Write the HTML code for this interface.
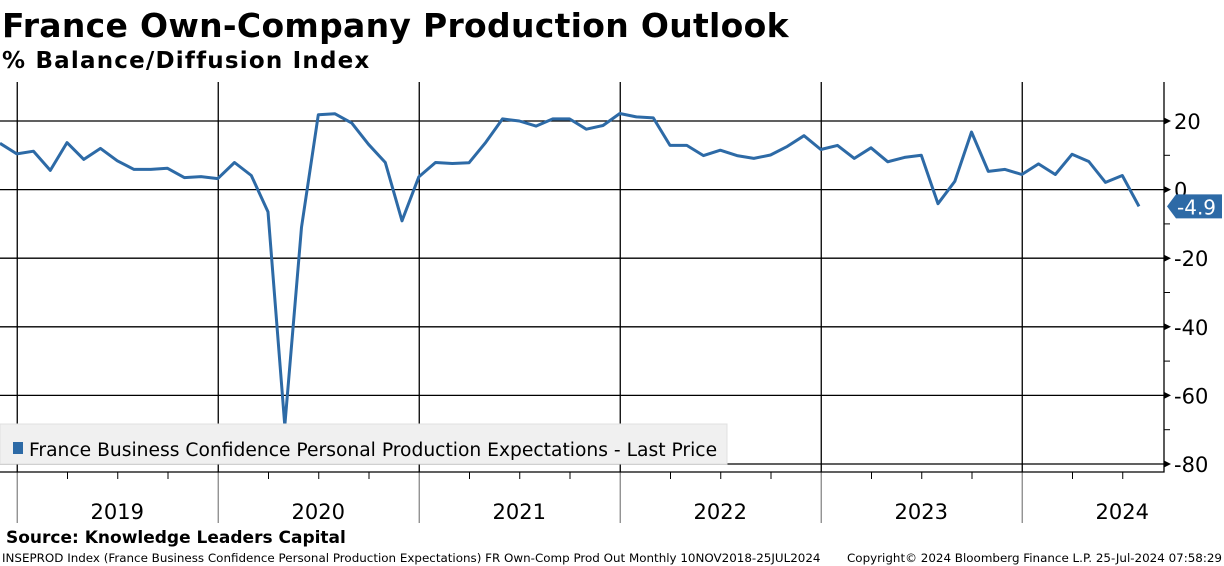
<!DOCTYPE html>
<html><head><meta charset="utf-8">
<style>
body{margin:0;background:#fff;width:1224px;height:566px;overflow:hidden;font-family:"Liberation Sans","DejaVu Sans",sans-serif;}
svg{display:block}
</style></head>
<body>
<svg id="chart" width="1224" height="566" xmlns="http://www.w3.org/2000/svg">
<text x="2" y="37" font-family="'DejaVu Sans',sans-serif" font-weight="bold" font-size="33" letter-spacing="0.3" fill="#000">France Own-Company Production Outlook</text>
<text x="2" y="68" font-family="'DejaVu Sans',sans-serif" font-weight="bold" font-size="23" letter-spacing="1.2" fill="#000">% Balance/Diffusion Index</text>
<g id="grid"></g>
<g id="axes"></g>
<g id="series"></g>
<g id="legend"></g>
<text x="6" y="543" font-family="'DejaVu Sans',sans-serif" font-weight="bold" font-size="17" fill="#000">Source: Knowledge Leaders Capital</text>
<text x="2" y="562" font-family="'DejaVu Sans',sans-serif" font-size="11.9" fill="#000">INSEPROD Index (France Business Confidence Personal Production Expectations) FR Own-Comp Prod Out  Monthly 10NOV2018-25JUL2024</text>
<text x="1222" y="562" text-anchor="end" font-family="'DejaVu Sans',sans-serif" font-size="11.9" fill="#000">Copyright© 2024 Bloomberg Finance L.P.     25-Jul-2024 07:58:29</text>
</svg>
<script>
const yearLabels=["2019","2020","2021","2022","2023","2024"];
const yTicks=[20,0,-20,-40,-60,-80];
const values=[13.5,10.4,11.2,5.6,13.7,8.8,12,8.4,5.9,5.9,6.2,3.5,3.8,3.2,7.9,4.1,-6.5,-68.8,-11,21.8,22.1,19.4,13.2,7.9,-9.1,3.7,7.9,7.6,7.8,13.8,20.6,20,18.5,20.6,20.6,17.6,18.7,22.2,21.2,20.9,12.9,12.9,9.9,11.5,9.9,9.1,10.1,12.6,15.7,11.7,12.9,9.1,12.2,8.1,9.4,10,-4.1,2.4,16.8,5.3,5.9,4.4,7.5,4.4,10.3,8.2,2.1,4.1,-4.9];
const lastValue="-4.9";
const NS="http://www.w3.org/2000/svg";
const xL=0,xR=1164,yTop=82,yBot=472;
function y(v){return 189.6-v*3.43;}
function x(i){return i*16.75;} // monthly index from Nov 2018
function mk(t,a,p){const e=document.createElementNS(NS,t);for(const k in a)e.setAttribute(k,a[k]);p.appendChild(e);return e;}
const grid=document.getElementById('grid'),axes=document.getElementById('axes'),ser=document.getElementById('series'),leg=document.getElementById('legend');
yTicks.forEach(v=>{
 const l=mk('line',{x1:xL,x2:xR,y1:y(v),y2:y(v),stroke:'#000','stroke-width':1.3},grid);
 
 
 const tk=mk('path',{d:`M${xR} ${y(v)-3.5} L${xR+7} ${y(v)} L${xR} ${y(v)+3.5}Z`,fill:'#000'},axes);
 
 
 const t=mk('text',{x:xR+10,y:y(v)+8,'font-size':21,'font-family':"'DejaVu Sans',sans-serif",fill:'#000'},axes);
 t.textContent=v;
 
 
});
for(let v=10;v>=-80;v-=20){
 const m=mk('line',{x1:xR,x2:xR+6,y1:y(v),y2:y(v),stroke:'#000','stroke-width':1},axes);
 
 
}
yearLabels.forEach((yr,k)=>{
 const xb=x(1+12*k)+0.5;
 const g1=mk('line',{x1:xb,x2:xb,y1:yTop,y2:yBot,stroke:'#000','stroke-width':1.3},grid);
 
 
 const g2=mk('line',{x1:xb,x2:xb,y1:yBot,y2:523,stroke:'#888','stroke-width':1.3},grid);
 
 
 for(let q=1;q<4;q++){
  const qx=x(1+12*k+3*q)+0.5;
  if(qx<xR){const qt=mk('line',{x1:qx,x2:qx,y1:yBot,y2:yBot+7,stroke:'#000','stroke-width':1},axes);
  
  }
 }
 const t=mk('text',{x:xb+100,y:519,'text-anchor':'middle','font-size':21,'font-family':"'DejaVu Sans',sans-serif",fill:'#000'},axes);
 t.textContent=yr;
 
 
});
const ax=mk('path',{d:`M${xR} ${yTop} V${yBot} H${xL}`,fill:'none',stroke:'#000','stroke-width':1.3},axes);


const lb=mk('rect',{x:0,y:424,width:727,height:40,fill:'#f0f0f0',stroke:'#e0e0e0'},leg);


const ls=mk('rect',{x:13,y:442,width:10,height:12,fill:'#2d6aa6'},leg);


const lt=mk('text',{x:29,y:456,'font-size':18.7,'font-family':"'DejaVu Sans',sans-serif",fill:'#000'},leg);
lt.textContent="France Business Confidence Personal Production Expectations - Last Price";


const pts=values.map((v,i)=>x(i).toFixed(1)+','+y(v).toFixed(1)).join(' ');
const pl=mk('polyline',{points:pts,fill:'none',stroke:'#2d6aa6','stroke-width':3,'stroke-linejoin':'round'},ser);


const lv=values[values.length-1],ly=y(lv);
const tag=mk('path',{d:`M1167 ${ly} L1176 ${ly-12} H1222 V${ly+12} H1176Z`,fill:'#2d6aa6'},ser);


const tt=mk('text',{x:1177,y:ly+8,'font-size':20,'font-family':"'DejaVu Sans',sans-serif",fill:'#fff'},ser);
tt.textContent=lastValue;


</script>
</body></html>
